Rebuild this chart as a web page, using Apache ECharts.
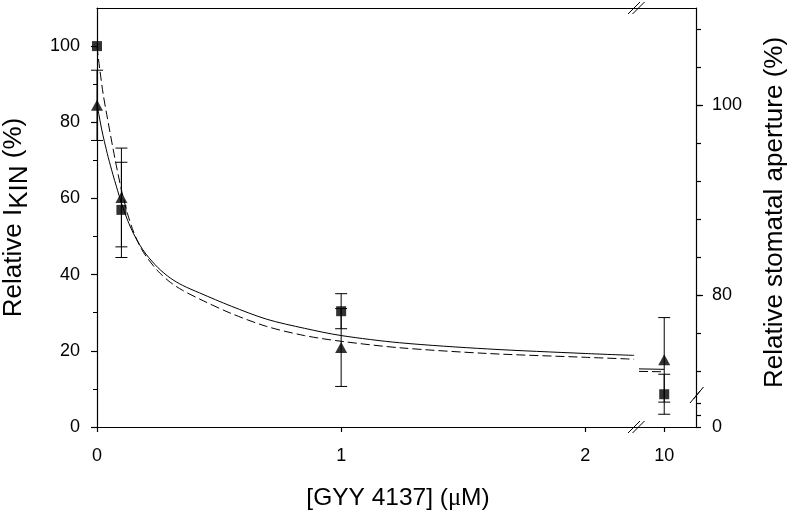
<!DOCTYPE html>
<html><head><meta charset="utf-8">
<script src="https://cdn.jsdelivr.net/npm/echarts@6/dist/echarts.min.js"></script>
<style>html,body{margin:0;padding:0;background:#fff}#c{width:793px;height:515px}</style>
</head><body><div id="c"></div><script>
// ---- data ----
// Squares: relative I_KIN (%), left axis
const sqX = [0, 0.1, 1, 10];
const sqY = [100, 57, 30.4, 8.6];
const sqErr = [0, 12.5, 4.6, 5.25];
// Triangles: relative stomatal aperture (%), right axis
const triX = [0, 0.1, 1, 10];
const triY = [100, 90.3, 74.5, 73.2];
const triErr = [3.7, 5.2, 4.1, 4.45];
// Dashed fit curve (I_KIN, left axis units)
const dashX = [0, 0.006, 0.012, 0.025, 0.04, 0.074, 0.1, 0.125, 0.15, 0.175, 0.2, 0.25, 0.3, 0.35, 0.42, 0.55, 0.695, 0.85, 1.0, 1.24, 1.6, 2.0, 2.2];
const dashY = [100, 96.7, 93.6, 87.5, 82.0, 70.3, 62.3, 56.0, 51.2, 47.6, 44.9, 40.9, 38.0, 35.9, 33.6, 29.8, 26.4, 24.0, 22.5, 20.8, 19.3, 18.3, 17.8];
const dashX2 = [9.5, 10];
const dashY2 = [14.6, 14.5];
// Solid fit curve (stomatal aperture, right axis units)
const solX = [0, 0.008, 0.019, 0.03, 0.046, 0.065, 0.08, 0.1, 0.125, 0.15, 0.175, 0.2, 0.25, 0.3, 0.35, 0.42, 0.55, 0.695, 0.85, 1.0, 1.24, 1.6, 2.0, 2.2];
const solY = [100.15, 98.99, 97.5, 96.22, 94.53, 92.73, 91.41, 89.72, 87.92, 86.47, 85.31, 84.35, 82.9, 81.82, 81.05, 80.25, 78.85, 77.48, 76.52, 75.76, 75.0, 74.35, 73.87, 73.67];
const solX2 = [9.5, 10];
const solY2 = [72.25, 72.2];
// tick values
const xTicksA = [0, 1, 2];
const xTicksB = [10];
const leftTicks = [0, 20, 40, 60, 80, 100];
const rightUpperTicks = [72, 76, 80, 84, 88, 92, 96, 100, 104, 108];
const rightMajorTicks = [80, 100];
const rightUpperLabels = [80, 100];
const rightLowerTicks = [0, 4, 8];
const rightLowerLabels = [0];

const FONT = "'Liberation Sans', Arial, sans-serif";
const BLK = '#000';
const ls = {color: BLK, width: 1.2};
const BREAK_X = 2.22;
const LBL = {fontSize: 18, color: BLK, fontFamily: FONT};

function zip(a, b) { return a.map((v, i) => [v, b[i]]); }
function split(xs, ys, es, left) {
  const out = [];
  xs.forEach((x, i) => { if ((x <= BREAK_X) === left) out.push([x, ys[i], es[i]]); });
  return out;
}

function errRender(params, api) {
  const x = api.value(0), y = api.value(1), e = api.value(2);
  if (!e) return null;
  const top = api.coord([x, y + e]);
  const bot = api.coord([x, y - e]);
  const w = 6;
  const st = {stroke: BLK, lineWidth: 1};
  return {type: 'group', children: [
    {type: 'line', shape: {x1: top[0], y1: top[1], x2: bot[0], y2: bot[1]}, style: st},
    {type: 'line', shape: {x1: top[0] - w, y1: top[1], x2: top[0] + w, y2: top[1]}, style: st},
    {type: 'line', shape: {x1: bot[0] - w, y1: bot[1], x2: bot[0] + w, y2: bot[1]}, style: st}
  ]};
}

const chart = echarts.init(document.getElementById('c'), null, {renderer: 'canvas'});
const hiddenX = (gi) => ({gridIndex: gi, type: 'value', min: 9.5, max: 10.63, show: false});
const frameTop = (gi, mn, mx) => ({gridIndex: gi, type: 'value', min: mn, max: mx, position: 'top',
  axisLine: {show: true, onZero: false, lineStyle: ls}, axisTick: {show: false}, axisLabel: {show: false}, splitLine: {show: false}});

const option = {
  backgroundColor: '#fff',
  animation: false,
  grid: [
    {left: 97, top: 8, width: 542, height: 419, outerBoundsMode: 'none', containLabel: false},
    {left: 639, top: 8, width: 57, height: 419, outerBoundsMode: 'none', containLabel: false},
    {left: 639, top: 8, width: 57, height: 387, outerBoundsMode: 'none', containLabel: false},
    {left: 639, top: 395, width: 57, height: 32, outerBoundsMode: 'none', containLabel: false}
  ],
  xAxis: [
    {gridIndex: 0, type: 'value', min: 0, max: BREAK_X, interval: 1, position: 'bottom',
      axisLine: {show: true, onZero: false, lineStyle: ls},
      axisTick: {show: true, inside: false, length: 5, lineStyle: ls, customValues: xTicksA},
      axisLabel: Object.assign({margin: 20, customValues: xTicksA}, LBL),
      splitLine: {show: false},
      name: '[GYY 4137] ({mu|\u03bc}M)', nameLocation: 'middle', nameGap: 59,
      nameTextStyle: {fontSize: 24.5, color: BLK, fontFamily: FONT, padding: [0, 0, 0, 60],
        rich: {mu: {fontSize: 24.5, color: BLK, fontFamily: "'Liberation Serif', serif"}}}},
    frameTop(0, 0, BREAK_X),
    {gridIndex: 1, type: 'value', min: 9.5, max: 10.63, position: 'bottom',
      axisLine: {show: true, onZero: false, lineStyle: ls},
      axisTick: {show: true, inside: false, length: 5, lineStyle: ls, customValues: xTicksB},
      axisLabel: Object.assign({margin: 20, customValues: xTicksB}, LBL),
      splitLine: {show: false}},
    frameTop(1, 9.5, 10.63),
    hiddenX(2),
    hiddenX(3)
  ],
  yAxis: [
    {gridIndex: 0, type: 'value', min: 0, max: 110, interval: 20, position: 'left',
      axisLine: {show: true, onZero: false, lineStyle: ls},
      axisTick: {show: true, inside: false, length: 6, lineStyle: ls, customValues: leftTicks},
      minorTick: {show: true, splitNumber: 2, length: 4, lineStyle: {color: BLK, width: 1}},
      axisLabel: Object.assign({margin: 17, customValues: leftTicks}, LBL),
      splitLine: {show: false},
      name: '{a|Relative I}{b|KIN}{a| (%)}', nameLocation: 'middle', nameRotate: 90, nameGap: 64,
      nameTextStyle: {color: BLK, fontFamily: FONT, fontSize: 26,
        rich: {a: {fontSize: 26, color: BLK, fontFamily: FONT, verticalAlign: 'top'},
               b: {fontSize: 26, color: BLK, fontFamily: FONT, verticalAlign: 'top', padding: [6, 0, 0, 0]}}}},
    {gridIndex: 0, type: 'value', min: 66.13, max: 110.25, show: false},
    {gridIndex: 1, type: 'value', min: 0, max: 110, show: false},
    // right-scale axis over the full height of the right part: only draws the longer major ticks
    {gridIndex: 1, type: 'value', min: 66.13, max: 110.25, position: 'right',
      axisLine: {show: false},
      axisTick: {show: true, inside: false, length: 7, lineStyle: ls, customValues: rightMajorTicks},
      axisLabel: {show: false}, splitLine: {show: false}},
    {gridIndex: 2, type: 'value', min: 69.5, max: 110.25, position: 'right',
      axisLine: {show: true, onZero: false, lineStyle: ls},
      axisTick: {show: true, inside: false, length: 5, lineStyle: ls, customValues: rightUpperTicks},
      axisLabel: Object.assign({margin: 16, customValues: rightUpperLabels}, LBL),
      splitLine: {show: false},
      name: 'Relative stomatal aperture (%)', nameLocation: 'middle', nameRotate: 90, nameGap: 66,
      nameTextStyle: {fontSize: 26, color: BLK, fontFamily: FONT, padding: [0, 22, 0, 0]}},
    {gridIndex: 3, type: 'value', min: 0, max: 10.67, position: 'right',
      axisLine: {show: true, onZero: false, lineStyle: ls},
      axisTick: {show: true, inside: false, length: 5, lineStyle: ls, customValues: rightLowerTicks},
      axisLabel: Object.assign({margin: 16, customValues: rightLowerLabels}, LBL),
      splitLine: {show: false}}
  ],
  graphic: [
    {type: 'line', shape: {x1: 628, y1: 433, x2: 640, y2: 421}, style: {stroke: BLK, lineWidth: 1}, z: 100},
    {type: 'line', shape: {x1: 632.5, y1: 433, x2: 644.5, y2: 421}, style: {stroke: BLK, lineWidth: 1}, z: 100},
    {type: 'line', shape: {x1: 628, y1: 14, x2: 640, y2: 2}, style: {stroke: BLK, lineWidth: 1}, z: 100},
    {type: 'line', shape: {x1: 632.5, y1: 14, x2: 644.5, y2: 2}, style: {stroke: BLK, lineWidth: 1}, z: 100},
    {type: 'line', shape: {x1: 690, y1: 403, x2: 700, y2: 391}, style: {stroke: BLK, lineWidth: 1}, z: 100},
    {type: 'line', shape: {x1: 693.5, y1: 399, x2: 703.5, y2: 387}, style: {stroke: BLK, lineWidth: 1}, z: 100}
  ],
  series: [
    {type: 'line', xAxisIndex: 0, yAxisIndex: 0, data: zip(dashX, dashY), smooth: 0.3,
      showSymbol: false, symbol: 'none', lineStyle: {color: BLK, width: 1, type: [9, 4]}, z: 2},
    {type: 'line', xAxisIndex: 0, yAxisIndex: 1, data: zip(solX, solY), smooth: 0.3,
      showSymbol: false, symbol: 'none', lineStyle: {color: BLK, width: 1}, z: 2},
    {type: 'line', xAxisIndex: 2, yAxisIndex: 2, data: zip(dashX2, dashY2),
      showSymbol: false, symbol: 'none', lineStyle: {color: BLK, width: 1, type: [9, 4]}, z: 2},
    {type: 'line', xAxisIndex: 2, yAxisIndex: 3, data: zip(solX2, solY2),
      showSymbol: false, symbol: 'none', lineStyle: {color: BLK, width: 1}, z: 2},
    {type: 'custom', xAxisIndex: 0, yAxisIndex: 0, data: split(sqX, sqY, sqErr, true), renderItem: errRender, z: 3},
    {type: 'custom', xAxisIndex: 2, yAxisIndex: 2, data: split(sqX, sqY, sqErr, false), renderItem: errRender, z: 3},
    {type: 'custom', xAxisIndex: 0, yAxisIndex: 1, data: split(triX, triY, triErr, true), renderItem: errRender, z: 3},
    {type: 'custom', xAxisIndex: 2, yAxisIndex: 3, data: split(triX, triY, triErr, false), renderItem: errRender, z: 3},
    {type: 'scatter', xAxisIndex: 0, yAxisIndex: 0, data: split(sqX, sqY, sqErr, true), symbol: 'rect', symbolSize: 10,
      itemStyle: {color: BLK}, z: 4, clip: false},
    {type: 'scatter', xAxisIndex: 2, yAxisIndex: 2, data: split(sqX, sqY, sqErr, false), symbol: 'rect', symbolSize: 10,
      itemStyle: {color: BLK}, z: 4, clip: false},
    {type: 'scatter', xAxisIndex: 0, yAxisIndex: 1, data: split(triX, triY, triErr, true), symbol: 'triangle', symbolSize: [12, 11],
      itemStyle: {color: BLK}, z: 4, clip: false},
    {type: 'scatter', xAxisIndex: 2, yAxisIndex: 3, data: split(triX, triY, triErr, false), symbol: 'triangle', symbolSize: [12, 11],
      itemStyle: {color: BLK}, z: 4, clip: false}
  ]
};
chart.setOption(option);
</script></body></html>
